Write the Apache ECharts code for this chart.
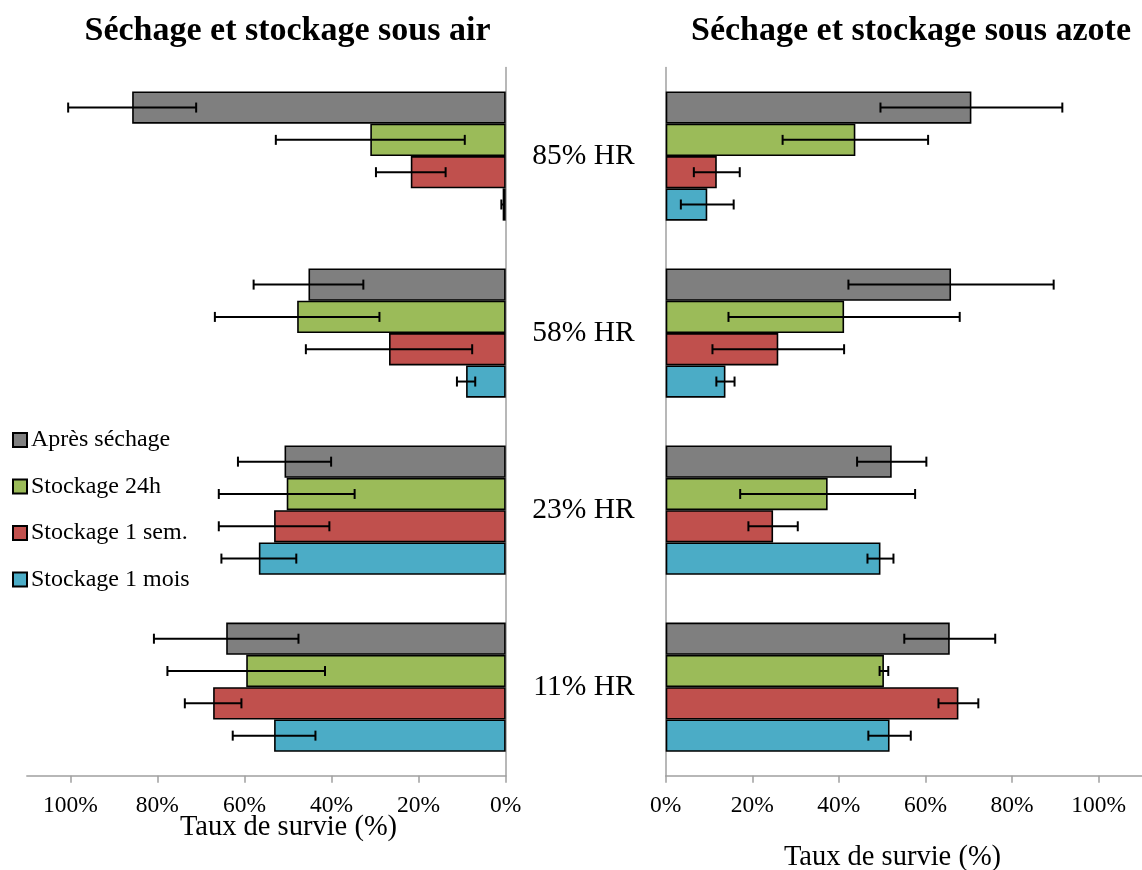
<!DOCTYPE html>
<html>
<head>
<meta charset="utf-8">
<script src="https://cdn.jsdelivr.net/npm/echarts@6/dist/echarts.min.js"></script>
<style>html,body{margin:0;padding:0;background:#fff}#c{width:1142px;height:870px}</style>
</head>
<body>
<div id="c"></div>
<script>
// ---- data ----
const categories = ['85% HR', '58% HR', '23% HR', '11% HR'];
const seriesNames = ['Après séchage', 'Stockage 24h', 'Stockage 1 sem.', 'Stockage 1 mois'];
const tickValues = [0, 20, 40, 60, 80, 100];
const panelTitles = ['Séchage et stockage sous air', 'Séchage et stockage sous azote'];
const axisTitle = 'Taux de survie (%)';

// Séchage et stockage sous air (mean, error)
const airApres = [85.8, 45.3, 50.8, 64.2];
const airApresErr = [14.7, 12.6, 10.7, 16.6];
const air24h = [31.1, 47.9, 50.3, 59.6];
const air24hErr = [21.7, 18.9, 15.6, 18.1];
const air1sem = [21.8, 26.8, 53.2, 67.2];
const air1semErr = [8.0, 19.1, 12.7, 6.5];
const air1mois = [0.7, 9.1, 56.7, 53.2];
const air1moisErr = [0.3, 2.1, 8.6, 9.5];

// Séchage et stockage sous azote (mean, error)
const azApres = [70.6, 65.9, 52.2, 65.6];
const azApresErr = [21.0, 23.7, 8.0, 10.5];
const az24h = [43.8, 41.2, 37.4, 50.4];
const az24hErr = [16.8, 26.7, 20.2, 1.0];
const az1sem = [11.8, 26.0, 24.8, 67.6];
const az1semErr = [5.3, 15.2, 5.7, 4.6];
const az1mois = [9.6, 13.8, 49.6, 51.7];
const az1moisErr = [6.1, 2.1, 3.0, 4.9];

// ---- styles ----
const colors = ['#7f7f7f', '#9bbb59', '#c0504d', '#4bacc6'];
const serif = '"Liberation Serif", "Times New Roman", serif';
const catGap = 0.27;

const airVals = [airApres, air24h, air1sem, air1mois];
const airErrs = [airApresErr, air24hErr, air1semErr, air1moisErr];
const azVals = [azApres, az24h, az1sem, az1mois];
const azErrs = [azApresErr, az24hErr, az1semErr, az1moisErr];

function barSeries(gridIdx, vals) {
  return vals.map((v, i) => ({
    type: 'bar', name: seriesNames[i], xAxisIndex: gridIdx, yAxisIndex: gridIdx,
    data: v, barGap: '0%', barCategoryGap: (catGap * 100) + '%',
    itemStyle: { color: colors[i], borderColor: '#000', borderWidth: 1.6 },
    emphasis: { disabled: true }, z: 2
  }));
}
function errSeries(gridIdx, vals, errs) {
  return vals.map((v, i) => ({
    type: 'custom', name: seriesNames[i] + ' err', xAxisIndex: gridIdx, yAxisIndex: gridIdx,
    data: v.map((m, k) => [Math.max(0, m - errs[i][k]), k, m + errs[i][k]]),
    encode: { x: [0, 2], y: 1 }, z: 5, silent: true,
    renderItem: function (params, api) {
      const cat = api.value(1);
      const band = api.size([0, 1])[1];
      const bw = band * (1 - catGap) / 4;
      const p1 = api.coord([api.value(0), cat]);
      const p2 = api.coord([api.value(2), cat]);
      const y = p1[1] - 2 * bw + (i + 0.5) * bw;
      const h = 5;
      const st = { stroke: '#000', lineWidth: 2 };
      return { type: 'group', children: [
        { type: 'line', shape: { x1: p1[0], y1: y, x2: p2[0], y2: y }, style: st },
        { type: 'line', shape: { x1: p1[0], y1: y - h, x2: p1[0], y2: y + h }, style: st },
        { type: 'line', shape: { x1: p2[0], y1: y - h, x2: p2[0], y2: y + h }, style: st }
      ] };
    }
  }));
}

const axisLineStyle = { color: '#a0a0a0', width: 1.5 };
function xAxis(gridIdx, inverse) {
  return {
    type: 'value', gridIndex: gridIdx, min: 0, max: 110, interval: 20, inverse: inverse,
    splitLine: { show: false },
    axisLine: { show: true, lineStyle: axisLineStyle },
    axisTick: { show: true, length: 7, lineStyle: axisLineStyle, customValues: tickValues },
    axisLabel: { fontFamily: serif, fontSize: 23.5, color: '#000', margin: 18,
      customValues: tickValues, formatter: v => v + '%' }
  };
}

const option = {
  animation: false,
  backgroundColor: '#fff',
  grid: [
    { left: 26.8, right: 1142 - 505.7, top: 67.5, height: 708.2 },
    { left: 665.7, right: -3.5, top: 67.5, height: 708.2 }
  ],
  xAxis: [xAxis(0, true), xAxis(1, false)],
  yAxis: [
    { type: 'category', gridIndex: 0, data: categories, inverse: true, position: 'right',
      axisLine: { show: true, lineStyle: axisLineStyle }, axisTick: { show: false }, axisLabel: { show: false } },
    { type: 'category', gridIndex: 1, data: categories, inverse: true, position: 'left',
      axisLine: { show: true, lineStyle: axisLineStyle }, axisTick: { show: false },
      axisLabel: { fontFamily: serif, fontSize: 29.5, color: '#000', margin: 31, padding: [6, 0, 0, 0] } }
  ],
  legend: {
    orient: 'vertical', left: 7, top: 423, itemWidth: 14, itemHeight: 14, itemGap: 22.5,
    icon: 'rect', data: seriesNames, selectedMode: false,
    textStyle: { fontFamily: serif, fontSize: 24, color: '#000', lineHeight: 24, padding: [0, 0, 0, -1] }
  },
  graphic: [
    { type: 'text', x: 287.5, y: 31, style: { text: panelTitles[0], textAlign: 'center', textVerticalAlign: 'middle',
      font: 'bold 34px ' + serif, fill: '#000' } },
    { type: 'text', x: 911, y: 31, style: { text: panelTitles[1], textAlign: 'center', textVerticalAlign: 'middle',
      font: 'bold 34px ' + serif, fill: '#000' } },
    { type: 'text', x: 288.5, y: 828, style: { text: axisTitle, textAlign: 'center', textVerticalAlign: 'middle',
      font: '28.5px ' + serif, fill: '#000' } },
    { type: 'text', x: 892.5, y: 858, style: { text: axisTitle, textAlign: 'center', textVerticalAlign: 'middle',
      font: '28.5px ' + serif, fill: '#000' } }
  ],
  series: [].concat(
    barSeries(0, airVals), barSeries(1, azVals),
    errSeries(0, airVals, airErrs), errSeries(1, azVals, azErrs)
  )
};

const chart = echarts.init(document.getElementById('c'), null, { renderer: 'canvas' });
chart.setOption(option);
</script>
</body>
</html>
